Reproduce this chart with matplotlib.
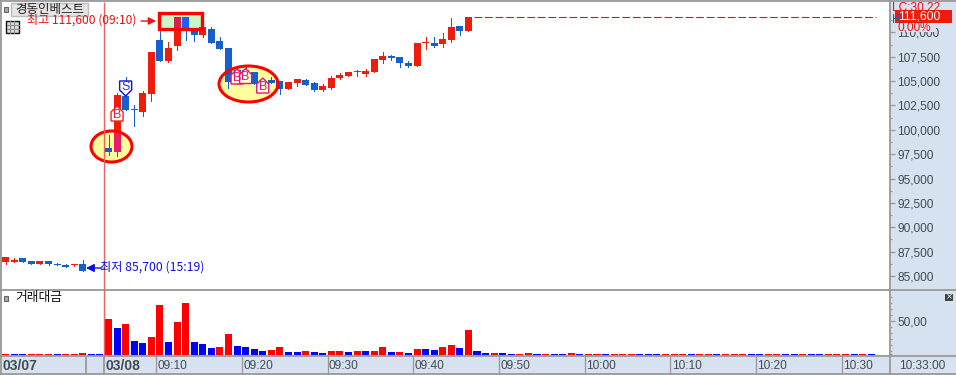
import matplotlib
matplotlib.use("Agg")
import matplotlib.pyplot as plt
from matplotlib.patches import Rectangle, Ellipse, Polygon
from matplotlib.transforms import Affine2D, blended_transform_factory
import numpy as np

plt.rcParams['font.family'] = ['Liberation Sans', 'Noto Sans CJK KR', 'DejaVu Sans']

# ---- data ----
candle_idx = list(range(-12, -2)) + list(range(0, 43))
opens = [86440,86440,86850,86540,86230,86540,86230,86130,86130,86230,
         98130,97720,103470,102130,101830,103670,109210,107060,108600,111600,
         110340,109730,110340,109110,108390,106140,106140,105930,104800,105110,
         105010,104190,104800,105110,104800,104080,104290,105320,105520,105930,
         105730,105930,107160,107570,107470,106850,106550,108860,108910,108800,
         109210,110650,110140]
highs = [86950,86850,86850,86540,86540,86540,86330,86230,86230,86640,
         99470,103780,105420,102540,103980,107980,110650,109010,111600,111600,
         110340,110550,110550,109520,108390,106440,106440,105930,105010,105420,
         105010,104900,105210,105210,104900,104700,105520,105830,105930,106140,
         106240,107260,107980,107670,107470,107060,108910,109520,109520,109930,
         111470,110650,111600]
lows = [86230,86440,86440,86230,86230,86130,86130,85920,86030,85510,
        97410,97310,102030,100390,101420,102960,107060,106960,108190,109210,
        109110,109520,108910,108290,104290,104700,105110,104700,104600,104800,
        103670,104190,104490,104600,103980,103980,104190,105210,105520,105520,
        105520,105930,106850,107160,106440,106440,106550,108290,108500,108500,
        109010,109730,110140]
closes = [86950,86640,86440,86230,86540,86230,86130,85920,86230,85510,
          97720,103570,102030,102030,103780,107980,107060,108390,111600,110340,
          109730,110550,108910,108290,104900,104700,105110,104700,104600,104800,
          104190,104900,105210,104600,104080,104490,105320,105620,105930,106030,
          106030,107260,107570,107370,106850,106550,108910,108910,108600,109320,
          110550,110140,111600]

prev_volume = [1.5,1.5,1.5,1.5,1.5,1.5,1.5,1.5,1.5,3.5,1.5,1.5]
prev_volume_side = "RBBRRRBRRRBB"
today_volume = [52.9,39.7,45.6,20.6,17.6,26.5,73.5,19.1,48.5,76.4,
                19.1,16.2,10.3,11.8,30.9,13.2,11.8,8.8,5.9,7.4,
                11.8,4.4,4.4,5.9,4.4,2.9,5.9,5.9,4.4,5.9,
                5.9,5.9,11.8,4.4,4.4,2.9,8.8,8.8,7.4,11.8,
                14.7,10.3,36.8,5.9,2.9,2.9,2.9,1.5,1.5,2.9,
                1.5,1.5,1.5,1.5,2.9,1.5,1.5,1.5,1.5,1.5,
                1.5,1.5,1.5,1.5,1.5,1.5,1.5,1.5,1.5,1.5,
                1.5,1.5,1.5,1.5,1.5,1.5,1.5,1.5,1.5,1.5,
                1.5,1.5,1.5,1.5,1.5,1.5,1.5,1.5,1.5,1.5]
today_volume_side = ("RBRBBRRBRR" "BBBRRBBBBR" "RBBRBBRRBR" "BRRBRBRBBR" "RBRBBRBBRR"
                     "BRBBRBRRBR" "RRBBBRRRBR" "RBRRRBBRRB" "BRBBRRRBRB")

price_ticks = list(range(85000, 112500, 2500))
price_labels = [f"{p:,}" for p in price_ticks]
time_idx = [6, 16, 26, 36, 46, 56, 66, 76, 86]
time_labels = ["09:10","09:20","09:30","09:40","09:50","10:00","10:10","10:20","10:30"]
high_price, low_price = 111600, 85500
buy_signals = [(1, 101620), (15, 105420), (16, 105470), (18, 104490)]
sell_signals = [(2, 104290)]

# ---- layout ----
W, H = 956, 375
X0, DX = 108.5, 8.57
P0, PPX = 85000, 102.6          # price at y=276 and price per pixel
BAND = '#D6E2F0'; GRAY = '#999999'; TXT = '#444B52'
RED = '#EE1C0A'; BLUE = '#1560CC'; VR = '#FF0000'; VB = '#0000FF'

fig = plt.figure(figsize=(W/100, H/100), dpi=100, facecolor=BAND)
px = Affine2D().scale(1/W, -1/H).translate(0, 1) + fig.transFigure

def axes_px(x0, y0, x1, y1, **kw):
    return fig.add_axes([x0/W, 1-y1/H, (x1-x0)/W, (y1-y0)/H], **kw)

xlim = ((2-X0)/DX, (890-X0)/DX)
ax = axes_px(2, 2, 890, 289)
ax.set_xlim(xlim)
ax.set_ylim(P0+(276-289)*PPX, P0+(276-2)*PPX)
vax = axes_px(2, 290, 890, 355)
vax.set_xlim(xlim)
vax.set_ylim(0, 65*1.47)

for a in (ax, vax):
    for s in a.spines.values():
        s.set_visible(False)

# price axis
ax.yaxis.tick_right()
ax.set_xticks([])
ax.set_yticks(price_ticks, price_labels, fontsize=8.6, color=TXT)
ax.set_yticks([p+1250 for p in price_ticks], minor=True)
ax.tick_params(axis='y', which='major', length=3.8, width=0.9, color=GRAY, pad=1.6)
ax.tick_params(axis='y', which='minor', length=1.6, width=0.9, color=GRAY)

# volume axis
vax.yaxis.tick_right()
vax.set_yticks([50], ["50,00"], fontsize=8.6, color=TXT)
vax.set_yticks([50+k*8.82 for k in range(-5, 5) if k != 0] + [1.5], minor=True)
vax.tick_params(axis='y', which='major', length=3.8, width=0.9, color=GRAY, pad=1.6)
vax.tick_params(axis='y', which='minor', length=1.6, width=0.9, color=GRAY)
vax.set_xticks([i-0.44 for i in time_idx], [""]*len(time_idx))
vax.tick_params(axis='x', length=13.7, width=0.9, color=GRAY, direction='out')
tb = blended_transform_factory(vax.transData, px)
for i, lab in zip(time_idx, time_labels):
    vax.text(i-0.3, 366, lab, transform=tb, fontsize=8.6, color=TXT, va='center', ha='left', clip_on=False)

# highlight backgrounds
ell1 = Ellipse((111.5, 146.5), 41, 31, transform=px, fc='#FFFFA0', ec='none', zorder=1, clip_on=False)
ell2 = Ellipse((248.5, 84), 59, 36, transform=px, fc='#FFFFA0', ec='none', zorder=1, clip_on=False)
box = Rectangle((159, 13), 43, 16, transform=px, fc='#C8F8C8', ec='none', zorder=1, clip_on=False)
for p in (ell1, ell2, box):
    ax.add_patch(p)

# candles
idx = np.array(candle_idx, float)
o, h, l, c = map(np.array, (opens, highs, lows, closes))
colors = [RED if cc >= oo else BLUE for oo, cc in zip(o, c)]
ax.vlines(idx, l, h, colors=colors, lw=0.72, zorder=2, antialiased=False)
ax.bar(idx, np.maximum(np.abs(c-o), 100), bottom=np.minimum(o, c), width=0.82, color=colors,
       lw=0, zorder=2.2, antialiased=False)

# tinted copies of the candles inside the highlights
for patch, rc, bc in ((ell1, '#E81E62', '#1860B0'), (box, '#D82040', '#2060F0')):
    cols = [rc if x == RED else bc for x in colors]
    bars = ax.bar(idx, np.maximum(np.abs(c-o), 100), bottom=np.minimum(o, c), width=0.82, color=cols,
                  lw=0, zorder=2.4, antialiased=False)
    for b in bars:
        b.set_clip_path(patch)

# highlight outlines
for e in (Ellipse((111.5, 146.5), 41, 31, transform=px, fc='none', ec='#FF0000', lw=2.2, zorder=3, clip_on=False),
          Ellipse((248.5, 84), 59, 36, transform=px, fc='none', ec='#FF0000', lw=2.2, zorder=3, clip_on=False),
          Rectangle((159.5, 13), 42.5, 16, transform=px, fc='none', ec='#FF0000', lw=2.4, zorder=3, clip_on=False)):
    ax.add_patch(e)

# high price dashed guide
ax.hlines(high_price, 42.6, 89.6, colors='#C02020', lw=0.8, linestyles=(0, (7, 2.5)), zorder=2)

# trade signals
house = np.array([[-6, 7], [-6, -2], [0, -8], [6, -2], [6, 7], [-6, 7]], float)
shield = house * [1, -1]
def signal(i, price, letter, shape, ec, tc, fill):
    xp = X0 + i*DX
    yp = 276 - (price-P0)/PPX
    ax.add_patch(Polygon(shape+[xp, yp], closed=True, transform=px, fc=fill, ec=ec, lw=1, zorder=4, clip_on=False))
    ax.text(xp, yp+(1 if letter == 'B' else -1), letter, transform=px, color=tc, fontsize=9,
            family='Liberation Sans', ha='center', va='center', zorder=5)
signal(*buy_signals[0], 'B', house, '#FF2020', '#F01840', 'white')
for s in buy_signals[1:]:
    signal(*s, 'B', house, '#E8107A', '#E8107A', '#FFFFE0')
signal(*sell_signals[0], 'S', shield, '#1010E0', '#3030E8', 'white')

# volume
vidx = np.arange(-12, 90)
vv = np.array(prev_volume + today_volume)
vc = [VR if s == 'R' else VB for s in prev_volume_side + today_volume_side]
vax.bar(vidx, vv, width=0.82, color=vc, lw=0, antialiased=False)

# overlay in pixels
ov = fig.add_axes([0, 0, 1, 1], facecolor='none', zorder=20)
ov.set_xlim(0, W); ov.set_ylim(H, 0); ov.axis('off')
K = ['Noto Sans CJK KR', 'DejaVu Sans']
def hline(y, x0=0, x1=W, col=GRAY, lw=1.3):
    ov.plot([x0, x1], [y, y], color=col, lw=lw, solid_capstyle='butt')
def vline(x, y0=0, y1=H, col=GRAY, lw=1.3):
    ov.plot([x, x], [y0, y1], color=col, lw=lw, solid_capstyle='butt')
hline(0.7); hline(289.5); hline(356); hline(374.3)
vline(0.7); vline(890.5); vline(86, 357, 374); vline(104, 357, 374)
vline(104.5, 2, 356, col='#F06060', lw=1)
ov.text(3, 366, "03/07", fontsize=10, weight='bold', family='Liberation Sans', color=TXT, va='center')
ov.text(106, 366, "03/08", fontsize=10, weight='bold', family='Liberation Sans', color=TXT, va='center')
ov.text(899, 366, "10:33:00", fontsize=8.6, color=TXT, va='center')

# title tag and icons
ov.add_patch(Rectangle((11.5, 3), 77, 13, fc='#E4E4E4', ec='#BBBBBB', lw=1))
ov.text(50, 9.5, "경동인베스트", family=K, fontsize=9, color='#222222', ha='center', va='center')
ov.add_patch(Rectangle((4.5, 6.5), 4, 5.5, fc='#AAAAAA', ec='#666666', lw=0.8))
ov.add_patch(Rectangle((6.5, 20.5), 12.5, 12.5, fc='#D8D8D8', ec='#111111', lw=1))
for t in (10.5, 14.5):
    ov.plot([t, t], [21, 33], color='#888888', lw=0.7)
ov.plot([7, 19], [25, 25], color='#888888', lw=0.7)
ov.plot([7, 19], [29, 29], color='#888888', lw=0.7)

# high / low callouts
ov.text(27, 20.5, "최고 111,600 (09:10)", family=K, fontsize=8.7, color='#F01010', va='center')
ov.annotate("", xy=(156, 21), xytext=(141, 21), arrowprops=dict(arrowstyle='-|>', color='#F01010', lw=1, mutation_scale=11, shrinkA=0, shrinkB=0))
ov.text(100, 267.5, "최저 85,700 (15:19)", family=K, fontsize=8.8, color='#1010E0', va='center')
ov.annotate("", xy=(86, 268), xytext=(102, 268), arrowprops=dict(arrowstyle='-|>', color='#1010E0', lw=1, mutation_scale=12, shrinkA=0, shrinkB=0))

# volume panel title
ov.add_patch(Rectangle((4.5, 295.5), 4, 5.5, fc='#AAAAAA', ec='#666666', lw=0.8))
ov.text(15, 298, "거래대금", family=K, fontsize=9.2, color='#111111', va='center')
ov.add_patch(Rectangle((945, 294), 8, 6.5, fc='#444444', ec='none'))
ov.text(949, 297, "×", fontsize=6, family='DejaVu Sans', color='white', ha='center', va='center')

# last price block on the price axis
ov.text(892, 7.5, "LC:30,22", fontsize=8.6, color='#F01010', va='center')
ov.text(892, 20, "H", fontsize=8.6, color=BLUE, va='center')
ov.add_patch(Rectangle((895, 10), 57, 13, fc='#EE1C0A', ec='none'))
ov.text(898, 16.5, "111,600", fontsize=8.8, color='white', va='center')
ov.add_patch(Rectangle((896, 23), 40, 8.5, fc=BAND, ec='none'))
ov.text(898, 28, "0,00%", fontsize=8.6, color='#F01010', va='center')

fig.savefig("out.png", dpi=100, facecolor=BAND)
